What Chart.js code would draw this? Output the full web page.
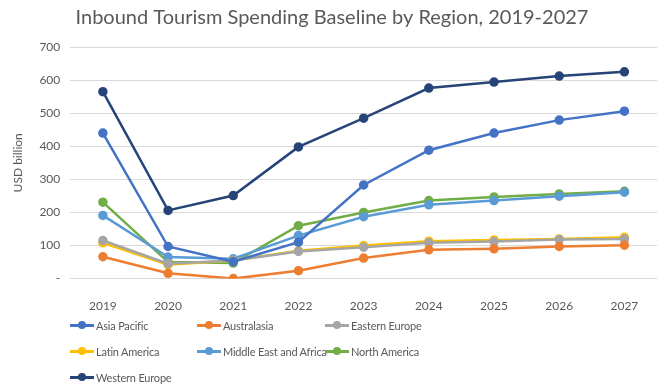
<!DOCTYPE html>
<html>
<head>
<meta charset="utf-8">
<script src="https://cdn.jsdelivr.net/npm/chart.js@4"></script>
<style>
  html, body { margin: 0; padding: 0; background: #fff; }
  #wrap { position: relative; width: 671px; height: 391px; }
  #legend { position: absolute; left: 70px; top: 317px; width: 420px;
    display: grid; grid-template-columns: 127px 128px 150px; row-gap: 9px;
    font-family: Lato, "Open Sans", sans-serif; font-size: 11px; letter-spacing: -0.2px; color: #595959; }
  .item { display: flex; align-items: center; height: 17px; white-space: nowrap; }
  .mark { position: relative; flex-shrink: 0; width: 24px; height: 3px; margin-right: 2px; }
  .mark span { position: absolute; left: 8px; top: -3px; width: 8px; height: 8px; border-radius: 50%; }
</style>
</head>
<body>
<div id="wrap">
  <canvas id="tourismChart" width="671" height="391"></canvas>
  <div id="legend"></div>
</div>
<script>
/* Inbound tourism spending, USD billion */
const years = ['2019', '2020', '2021', '2022', '2023', '2024', '2025', '2026', '2027'];
const regions = ['Asia Pacific', 'Australasia', 'Eastern Europe', 'Latin America',
  'Middle East and Africa', 'North America', 'Western Europe'];
const asiaPacific = [440, 97, 51, 110, 283, 388, 440, 479, 506];
const australasia = [66, 16, 0, 24, 62, 87, 90, 97, 101];
const easternEurope = [115, 45, 55, 82, 95, 108, 112, 118, 120];
const latinAmerica = [108, 42, 55, 84, 100, 113, 117, 120, 125];
const middleEastAfrica = [191, 65, 60, 130, 187, 223, 236, 249, 261];
const northAmerica = [231, 50, 47, 160, 200, 236, 247, 256, 264];
const westernEurope = [565, 206, 251, 398, 485, 576, 594, 612, 625];
const yTicks = [0, 100, 200, 300, 400, 500, 600, 700];

const colors = ['#4472C4', '#ED7D31', '#A5A5A5', '#FFC000', '#5B9BD5', '#70AD47', '#264478'];
const series = [asiaPacific, australasia, easternEurope, latinAmerica, middleEastAfrica, northAmerica, westernEurope];

const datasets = regions.map(function (name, i) {
  return {
    label: name,
    data: series[i],
    borderColor: colors[i],
    backgroundColor: colors[i],
    borderWidth: 2.5,
    pointRadius: 3.5,
    pointHoverRadius: 4,
    tension: 0
  };
});

const font = "Lato, 'Open Sans', sans-serif";

const config = {
  type: 'line',
  data: { labels: years, datasets: datasets },
  options: {
    responsive: false,
    animation: false,
    layout: { padding: { left: 7, right: 14, top: 6, bottom: 66 } },
    plugins: {
      legend: { display: false },
      tooltip: { enabled: false },
      title: {
        display: true,
        text: 'Inbound Tourism Spending Baseline by Region, 2019-2027',
        color: '#595959',
        font: { family: font, size: 20, weight: 'normal' },
        padding: { top: 0, bottom: 17 }
      }
    },
    scales: {
      x: {
        offset: true,
        grid: { display: false },
        border: { display: false },
        ticks: { color: '#595959', font: { family: font, size: 12 }, padding: 12 }
      },
      y: {
        min: 0,
        max: 700,
        afterBuildTicks: function (axis) {
          axis.ticks = yTicks.map(function (v) { return { value: v }; });
        },
        grid: { color: '#D9D9D9', drawTicks: false },
        border: { display: false },
        title: {
          display: true,
          text: 'USD billion',
          color: '#595959',
          font: { family: font, size: 12 }
        },
        ticks: {
          color: '#595959',
          font: { family: font, size: 12 },
          padding: 10,
          callback: function (v) { return v === 0 ? '-' : v; }
        }
      }
    }
  }
};

var myChart = new Chart(document.getElementById('tourismChart'), config);

/* legend in Excel-like grid */
const legend = document.getElementById('legend');
regions.forEach(function (name, i) {
  const item = document.createElement('div');
  item.className = 'item';
  item.innerHTML = '<div class="mark" style="background:' + colors[i] + '"><span style="background:' +
    colors[i] + '"></span></div>' + name;
  legend.appendChild(item);
});
</script>
</body>
</html>
